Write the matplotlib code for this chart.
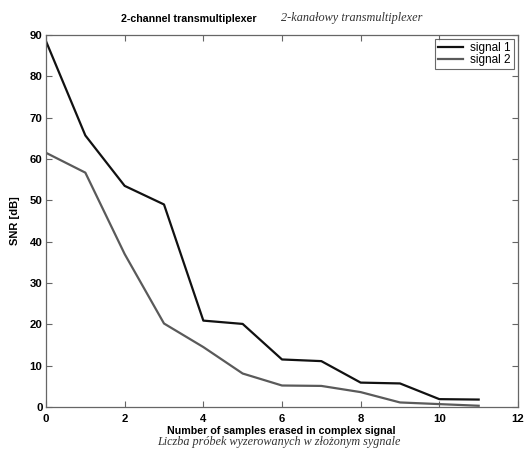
import matplotlib
matplotlib.use("Agg")
import matplotlib.pyplot as plt

x = [0, 1, 2, 3, 4, 5, 6, 7, 8, 9, 10, 11]
signal1 = [88.5, 65.7, 53.5, 49.0, 20.9, 20.1, 11.5, 11.1, 5.9, 5.7, 1.9, 1.8]
signal2 = [61.5, 56.7, 37.0, 20.2, 14.5, 8.1, 5.2, 5.1, 3.6, 1.1, 0.7, 0.3]
xticks = [0, 2, 4, 6, 8, 10, 12]
yticks = [0, 10, 20, 30, 40, 50, 60, 70, 80, 90]

sans = ['Liberation Sans', 'DejaVu Sans']
serif = ['Liberation Serif', 'DejaVu Serif']

fig = plt.figure(figsize=(5.26, 4.49), dpi=100)
ax = fig.add_axes([46/526, 42/449, 472/526, 372/449])

ax.plot(x, signal1, color='#111111', lw=1.6, label='signal 1')
ax.plot(x, signal2, color='#5a5a5a', lw=1.6, label='signal 2')

ax.set_xlim(0, 12)
ax.set_ylim(0, 90)
ax.set_xticks(xticks)
ax.set_yticks(yticks)
ax.tick_params(direction='in', top=True, right=True, length=4, width=0.8,
               colors='#666666', labelcolor='black')
ax.tick_params(axis='x', pad=5)
ax.tick_params(axis='y', pad=2.5)
for lab in ax.get_xticklabels() + ax.get_yticklabels():
    lab.set_family(sans)
    lab.set_fontweight('bold')
    lab.set_fontsize(8.2)
for s in ax.spines.values():
    s.set_color('#666666')
    s.set_linewidth(0.9)

ax.set_ylabel('SNR [dB]', family=sans, fontweight='bold', fontsize=8, labelpad=7)

leg = ax.legend(loc='upper right', prop={'family': sans, 'size': 8.5},
                frameon=True, fancybox=False, borderpad=0.25, labelspacing=0.0,
                handlelength=2.1, handletextpad=0.6, borderaxespad=0.35)
leg.get_frame().set_edgecolor('#444444')
leg.get_frame().set_linewidth(0.8)

fig.text(257/526, 1 - 18.5/449, '2-channel transmultiplexer', family=sans,
         fontweight='bold', fontsize=7.7, ha='right', va='center')
fig.text(281/526, 1 - 18.5/449, '2-kanałowy transmultiplexer', family=serif,
         style='italic', fontsize=8.8, color='#333333', ha='left', va='center')

fig.text(281/526, 1 - 431.5/449, 'Number of samples erased in complex signal',
         family=sans, fontweight='bold', fontsize=7.7, ha='center', va='center')
fig.text(279/526, 1 - 442.5/449, 'Liczba próbek wyzerowanych w złożonym sygnale',
         family=serif, style='italic', fontsize=8.7, color='#333333',
         ha='center', va='center')

fig.savefig('out.png', dpi=100)
